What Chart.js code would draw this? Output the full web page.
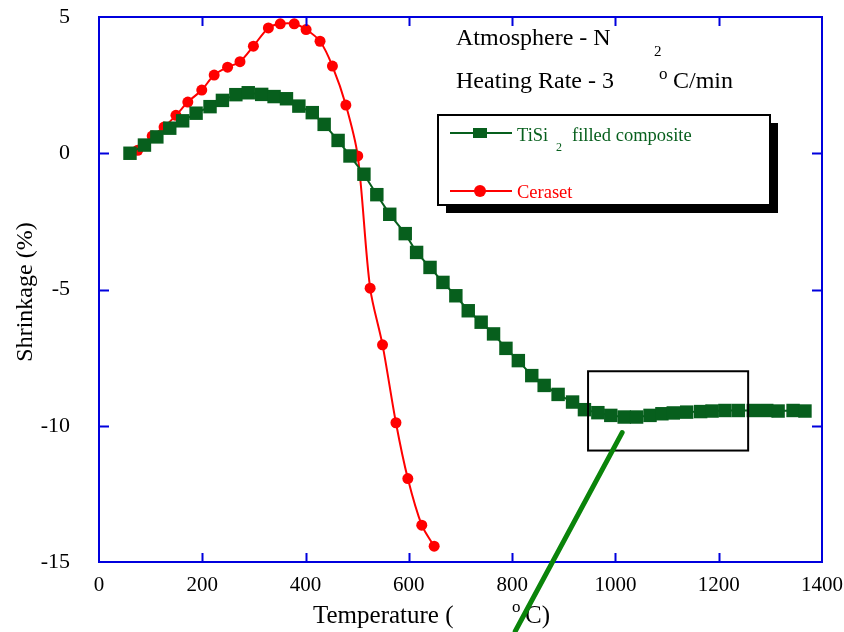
<!DOCTYPE html>
<html>
<head>
<meta charset="utf-8">
<script src="https://cdn.jsdelivr.net/npm/chart.js@4.4.1/dist/chart.umd.min.js"></script>
<style>
  html, body { margin: 0; padding: 0; background: #fff; }
</style>
</head>
<body>
<canvas id="shrinkChart" width="844" height="632"></canvas>
<script>
// Data
const tisiTemp = [60, 88, 112, 137, 162, 188, 215, 239, 265, 289, 315, 339, 363, 387, 413, 436, 463, 486, 513, 538,
  563, 593, 615, 641, 666, 691, 715, 740, 764, 788, 812, 838, 862, 889, 917, 940, 966, 991, 1017, 1041,
  1067, 1090, 1112, 1138, 1165, 1187, 1212, 1238, 1267, 1293, 1315, 1344, 1367];
const tisiShrink = [0.0, 0.3, 0.6, 0.92, 1.19, 1.47, 1.71, 1.94, 2.15, 2.22, 2.16, 2.08, 2.0, 1.73, 1.49, 1.06, 0.47, -0.1, -0.77, -1.52,
  -2.24, -2.95, -3.64, -4.19, -4.74, -5.23, -5.78, -6.2, -6.63, -7.16, -7.61, -8.16, -8.52, -8.85, -9.13, -9.41, -9.52, -9.62, -9.68, -9.68,
  -9.62, -9.56, -9.53, -9.5, -9.48, -9.46, -9.44, -9.44, -9.44, -9.44, -9.46, -9.44, -9.46];

const ceraTemp = [75, 103, 126, 149, 172, 199, 223, 249, 273, 299, 328, 351, 378, 401, 428, 452, 478, 501, 525, 549, 575, 598, 625, 649];
const ceraShrink = [0.11, 0.63, 0.96, 1.39, 1.88, 2.32, 2.87, 3.16, 3.36, 3.93, 4.6, 4.75, 4.75, 4.54, 4.11, 3.2, 1.77, -0.1,
  -4.95, -7.03, -9.89, -11.94, -13.65, -14.42];

const xTicks = [0, 200, 400, 600, 800, 1000, 1200, 1400];
const yTicks = [-15, -10, -5, 0, 5];

// zoom box and pointer line (data units)
const zoomBox = [947, -8.0, 1257, -10.91];
const pointer = [1013, -10.25, 806, -17.54];

const green = "#075f1d";
const red = "#ff0000";
const blue = "#0000dd";
const serif = "'Liberation Serif', 'Times New Roman', serif";

function toPoints(xs, ys) {
  return xs.map((x, i) => ({ x: x, y: ys[i] }));
}

// Frame, inward ticks, titles, notes and legend
const extras = {
  id: "extras",
  afterDatasetsDraw(chart) {
    const ctx = chart.ctx;
    const a = chart.chartArea;
    const xs = chart.scales.x;
    const ys = chart.scales.y;
    ctx.save();

    // blue frame with ticks on all four sides
    ctx.strokeStyle = blue;
    ctx.lineWidth = 2;
    ctx.strokeRect(a.left, a.top, a.right - a.left, a.bottom - a.top);
    ctx.beginPath();
    xTicks.slice(1, -1).forEach(v => {
      const px = Math.round(xs.getPixelForValue(v)) + 0.5;
      ctx.moveTo(px, a.bottom); ctx.lineTo(px, a.bottom - 9);
      ctx.moveTo(px, a.top); ctx.lineTo(px, a.top + 9);
    });
    yTicks.slice(1, -1).forEach(v => {
      const py = Math.round(ys.getPixelForValue(v)) + 0.5;
      ctx.moveTo(a.left, py); ctx.lineTo(a.left + 10, py);
      ctx.moveTo(a.right, py); ctx.lineTo(a.right - 10, py);
    });
    ctx.stroke();

    // zoom box
    ctx.strokeStyle = "#000";
    ctx.lineWidth = 2;
    const bx1 = xs.getPixelForValue(zoomBox[0]), by1 = ys.getPixelForValue(zoomBox[1]);
    const bx2 = xs.getPixelForValue(zoomBox[2]), by2 = ys.getPixelForValue(zoomBox[3]);
    ctx.strokeRect(bx1, by1, bx2 - bx1, by2 - by1);

    // notes
    ctx.fillStyle = "#000";
    ctx.textBaseline = "alphabetic";
    ctx.textAlign = "left";
    ctx.font = "24px " + serif;
    ctx.fillText("Atmosphere - N", 456, 45);
    ctx.fillText("Heating Rate - 3", 456, 88);
    ctx.fillText("C/min", 673, 88);
    ctx.font = "15px " + serif;
    ctx.fillText("2", 654, 56);
    ctx.font = "17px " + serif;
    ctx.fillText("o", 659, 79);

    // legend box with shadow
    ctx.fillStyle = "#000";
    ctx.fillRect(446, 123, 332, 90);
    ctx.fillStyle = "#fff";
    ctx.fillRect(438, 115, 332, 90);
    ctx.strokeStyle = "#000";
    ctx.lineWidth = 2;
    ctx.strokeRect(438, 115, 332, 90);

    const ds = chart.data.datasets;
    // entry 1
    ctx.strokeStyle = ds[0].borderColor;
    ctx.beginPath(); ctx.moveTo(450, 133); ctx.lineTo(512, 133); ctx.stroke();
    ctx.fillStyle = ds[0].borderColor;
    ctx.fillRect(473, 128, 14, 10);
    ctx.font = "18.5px " + serif;
    ctx.fillText("TiSi", 517, 141);
    ctx.fillText("filled composite", 572, 141);
    ctx.font = "12px " + serif;
    ctx.fillText("2", 556, 151);
    // entry 2
    ctx.strokeStyle = ds[1].borderColor;
    ctx.beginPath(); ctx.moveTo(450, 191); ctx.lineTo(512, 191); ctx.stroke();
    ctx.fillStyle = ds[1].borderColor;
    ctx.beginPath(); ctx.arc(480, 191, 6, 0, Math.PI * 2); ctx.fill();
    ctx.font = "18.5px " + serif;
    ctx.fillText(ds[1].label, 517, 198);

    // axis titles
    ctx.fillStyle = "#000";
    ctx.font = "25px " + serif;
    ctx.fillText("Temperature (", 313, 623);
    ctx.fillText("C)", 525, 623);
    ctx.font = "17px " + serif;
    ctx.fillText("o", 512, 612);

    ctx.save();
    ctx.translate(32, 292);
    ctx.rotate(-Math.PI / 2);
    ctx.textAlign = "center";
    ctx.font = "24px " + serif;
    ctx.fillText("Shrinkage (%)", 0, 0);
    ctx.restore();

    // pointer line
    ctx.strokeStyle = "#0a840a";
    ctx.lineWidth = 5;
    ctx.lineCap = "round";
    ctx.beginPath();
    ctx.moveTo(xs.getPixelForValue(pointer[0]), ys.getPixelForValue(pointer[1]));
    ctx.lineTo(xs.getPixelForValue(pointer[2]), ys.getPixelForValue(pointer[3]));
    ctx.stroke();

    ctx.restore();
  }
};

const chart = new Chart(document.getElementById("shrinkChart"), {
  type: "line",
  data: {
    datasets: [{
      label: "TiSi2 filled composite",
      data: toPoints(tisiTemp, tisiShrink),
      borderColor: green,
      backgroundColor: green,
      borderWidth: 2,
      pointStyle: "rect",
      pointRadius: 9.5,
      pointBorderWidth: 0,
      tension: 0
    }, {
      label: "Ceraset",
      data: toPoints(ceraTemp, ceraShrink),
      borderColor: red,
      backgroundColor: red,
      borderWidth: 2,
      pointStyle: "circle",
      pointRadius: 5.5,
      pointBorderWidth: 0,
      tension: 0.3
    }]
  },
  options: {
    responsive: false,
    devicePixelRatio: 1,
    animation: false,
    layout: { padding: { top: 17, right: 22, left: 0, bottom: 0 } },
    plugins: {
      legend: { display: false },
      tooltip: { enabled: false }
    },
    scales: {
      x: {
        type: "linear",
        min: 0,
        max: 1400,
        afterBuildTicks: s => { s.ticks = xTicks.map(v => ({ value: v })); },
        afterFit: s => { s.height = 70; s.paddingLeft = 0; s.paddingRight = 0; },
        grid: { display: false, drawTicks: false },
        border: { display: false },
        ticks: { color: "#000", padding: 11, font: { family: serif, size: 21 }, callback: v => String(v) }
      },
      y: {
        min: -15,
        max: 5,
        afterBuildTicks: s => { s.ticks = yTicks.map(v => ({ value: v })); },
        afterFit: s => { s.width = 99; s.paddingTop = 0; s.paddingBottom = 0; },
        grid: { display: false, drawTicks: false },
        border: { display: false },
        ticks: { color: "#000", padding: 29, font: { family: serif, size: 22 }, callback: v => String(v) }
      }
    }
  },
  plugins: [extras]
});
</script>
</body>
</html>
